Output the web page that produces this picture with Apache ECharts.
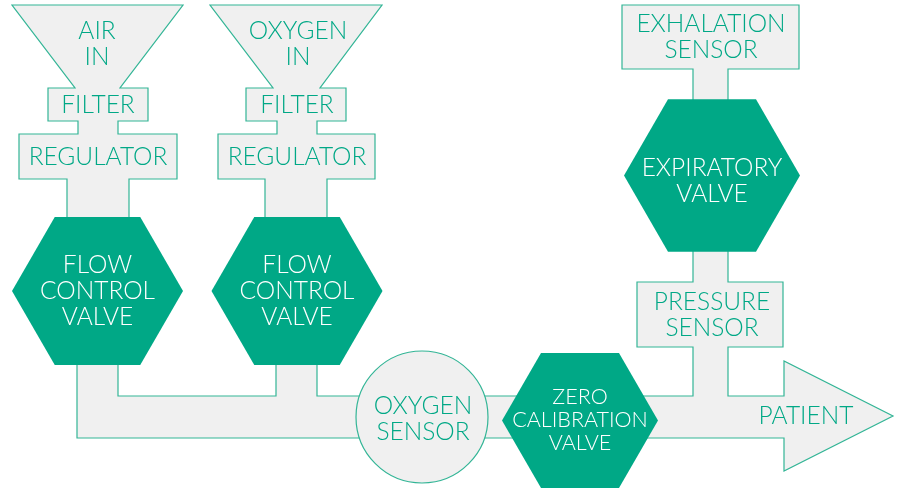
<!DOCTYPE html>
<html>
<head>
<meta charset="utf-8">
<script src="https://cdn.jsdelivr.net/npm/echarts@6/dist/echarts.min.js"></script>
<style>html,body{margin:0;background:#fff}#main{width:900px;height:489px}</style>
</head>
<body>
<div id="main"></div>
<script>
var myChart = echarts.init(document.getElementById('main'));

// diagram units = pixels, y grows downward
var pipeOutlines = [
    // air inlet: funnel + filter + regulator + stem
    [[12,5],[183,5],[120,88],[148,88],[148,121],[118,121],[118,134],[177,134],[177,179],[129,179],[129,222],[67,222],[67,179],[19,179],[19,134],[78,134],[78,121],[48,121],[48,88],[75,88]],
    // oxygen inlet
    [[210,5],[382,5],[320,88],[346,88],[346,121],[317,121],[317,134],[375,134],[375,179],[327,179],[327,222],[265,222],[265,179],[218,179],[218,134],[277,134],[277,121],[246,121],[246,88],[273,88]],
    // exhalation sensor + stem
    [[622,5],[799,5],[799,69],[728,69],[728,104],[693,104],[693,69],[622,69]],
    // main line, pressure sensor and patient arrow
    [[77,360],[77,438],[784,438],[784,471],[893,416],[784,361],[784,396],[728,396],[728,347],[783,347],[783,282],[728,282],[728,246],[693,246],[693,282],[637,282],[637,347],[693,347],[693,396],[317,396],[317,360],[276,360],[276,396],[118,396],[118,360]]
];
var sensorCircle = [[422, 417, 66]];
var valveCentres = [[97.5, 291], [297, 291], [580, 420.5], [712, 175.5]];
var valveRadius = [85.5, 85.5, 78, 88];

var labelText = ['AIR\nIN', 'OXYGEN\nIN', 'FILTER', 'FILTER', 'REGULATOR', 'REGULATOR',
    'FLOW\nCONTROL\nVALVE', 'FLOW\nCONTROL\nVALVE', 'OXYGEN\nSENSOR', 'ZERO\nCALIBRATION\nVALVE',
    'EXHALATION\nSENSOR', 'EXPIRATORY\nVALVE', 'PRESSURE\nSENSOR', 'PATIENT'];
var labelPos = [[97,44],[298,44],[98,105],[297,105],[98,157],[297,157],
    [97.5,291],[297,291],[423,419],[580,420.5],
    [711,37],[712,181],[712,315],[806,416]];
var labelOnValve = [0,0,0,0,0,0,1,1,0,1,0,1,0,0];

var GREEN = '#00a886';
var GREY = '#f0f0f0';
var LINE = '#33b596';

function idx(arr) {
    return arr.map(function (d, i) { return [i, 0]; });
}

option = {
    animation: false,
    grid: {left: 0, right: 0, top: 0, bottom: 0},
    xAxis: {type: 'value', min: 0, max: 900, show: false},
    yAxis: {type: 'value', min: 0, max: 489, inverse: true, show: false},
    series: [
        {
            type: 'custom',
            z: 1,
            data: idx(pipeOutlines),
            renderItem: function (params, api) {
                var pts = pipeOutlines[api.value(0)].map(function (p) { return api.coord(p); });
                return {
                    type: 'polygon',
                    shape: {points: pts},
                    style: {fill: GREY, stroke: LINE, lineWidth: 1.2}
                };
            }
        },
        {
            type: 'custom',
            z: 2,
            data: idx(sensorCircle),
            renderItem: function (params, api) {
                var c = sensorCircle[api.value(0)];
                var p = api.coord([c[0], c[1]]);
                return {
                    type: 'circle',
                    shape: {cx: p[0], cy: p[1], r: api.size([c[2], 0])[0]},
                    style: {fill: GREY, stroke: LINE, lineWidth: 1.2}
                };
            }
        },
        {
            type: 'custom',
            z: 3,
            data: idx(valveCentres),
            renderItem: function (params, api) {
                var i = api.value(0);
                var c = valveCentres[i], r = valveRadius[i], h = r * Math.sqrt(3) / 2;
                var pts = [[c[0] - r, c[1]], [c[0] - r / 2, c[1] - h], [c[0] + r / 2, c[1] - h],
                    [c[0] + r, c[1]], [c[0] + r / 2, c[1] + h], [c[0] - r / 2, c[1] + h]].map(function (p) { return api.coord(p); });
                return {
                    type: 'polygon',
                    shape: {points: pts},
                    style: {fill: GREEN}
                };
            }
        },
        {
            type: 'custom',
            z: 4,
            data: idx(labelText),
            renderItem: function (params, api) {
                var i = api.value(0);
                var p = api.coord(labelPos[i]);
                var small = labelText[i].indexOf('CALIBRATION') >= 0;
                return {
                    type: 'text',
                    x: p[0],
                    y: p[1],
                    style: {
                        text: labelText[i],
                        fill: labelOnValve[i] ? '#ffffff' : GREEN,
                        fontFamily: 'Lato',
                        fontWeight: 300,
                        fontSize: small ? 21.5 : 24.5,
                        lineHeight: small ? 23 : 26,
                        align: 'center',
                        verticalAlign: 'middle'
                    }
                };
            }
        }
    ]
};

myChart.setOption(option);
</script>
</body>
</html>
